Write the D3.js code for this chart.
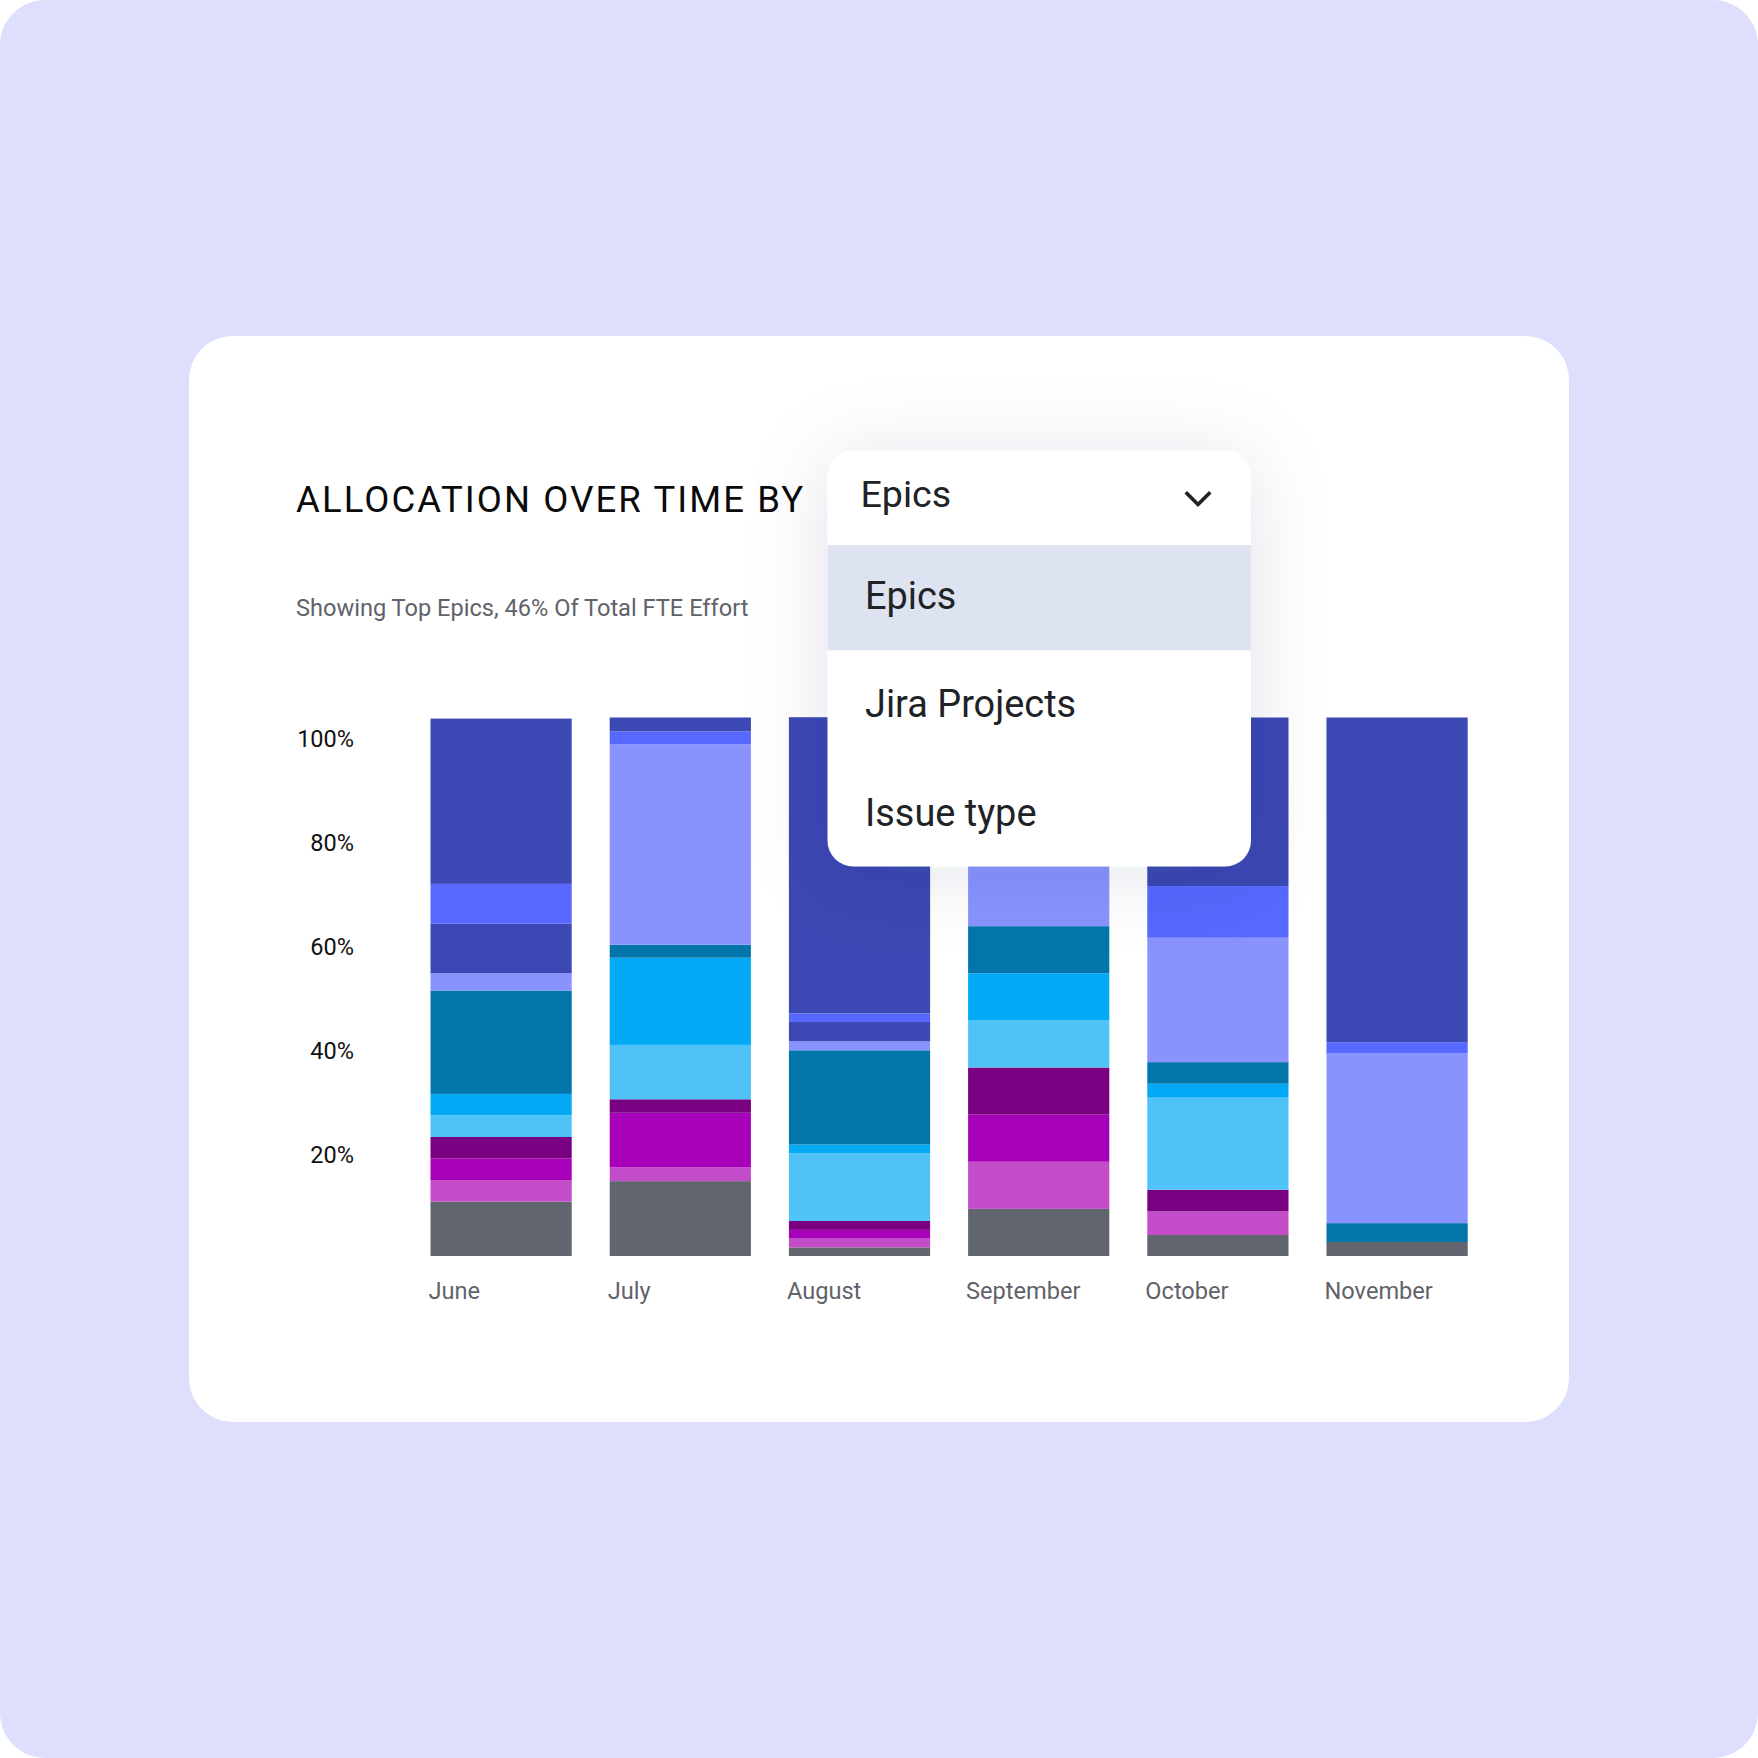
<!DOCTYPE html>
<html>
<head>
<meta charset="utf-8">
<script src="https://cdn.jsdelivr.net/npm/d3@7"></script>
<style>
  html, body { margin: 0; padding: 0; background: #ffffff; }
  svg { display: block; }
  text { font-family: Roboto, "Noto Sans", sans-serif; }
</style>
</head>
<body>
<svg id="chart" width="1758" height="1758"></svg>
<script>
// ---- data ----
const months = ["June", "July", "August", "September", "October", "November"];
const seriesKeys = ["Other", "Epic 1", "Epic 2", "Epic 3", "Epic 4", "Epic 5", "Epic 6", "Epic 7", "Epic 8", "Epic 9", "Epic 10"];
const seriesColors = ["#61656d", "#c34dc9", "#a600b9", "#790080", "#4fc3f7", "#03a9f4", "#0276ab", "#8893fd", "#3c48b3", "#5668ff", "#3c48b3"];
const otherVals  = [10.1, 13.9, 1.6, 8.75, 3.9, 2.6];
const epic1Vals  = [4.0, 2.6, 1.65, 8.75, 4.4, 0];
const epic2Vals  = [4.0, 10.1, 1.6, 8.75, 0, 0];
const epic3Vals  = [4.0, 2.5, 1.65, 8.75, 4.0, 0];
const epic4Vals  = [4.0, 10.1, 12.6, 8.75, 17.1, 0];
const epic5Vals  = [4.0, 16.2, 1.6, 8.75, 2.6, 0];
const epic6Vals  = [19.2, 2.4, 17.5, 8.75, 4.0, 3.5];
const epic7Vals  = [3.2, 37.2, 1.65, 12.5, 23.1, 31.5];
const epic8Vals  = [9.2, 0, 3.6, 0, 0, 0];
const epic9Vals  = [7.4, 2.4, 1.6, 8.75, 9.6, 2.1];
const epic10Vals = [30.7, 2.6, 55.0, 17.5, 31.3, 60.3];
const yTicks = [20, 40, 60, 80, 100];
const titleText = "ALLOCATION OVER TIME BY";
const subtitleText = "Showing Top Epics, 46% Of Total FTE Effort";
const dropdownSelected = "Epics";
const dropdownOptions = ["Epics", "Jira Projects", "Issue type"];

const allVals = [otherVals, epic1Vals, epic2Vals, epic3Vals, epic4Vals, epic5Vals, epic6Vals, epic7Vals, epic8Vals, epic9Vals, epic10Vals];
const table = months.map((m, i) => {
  const row = { month: m };
  seriesKeys.forEach((k, j) => { row[k] = allVals[j][i]; });
  return row;
});

// ---- drawing ----
const svg = d3.select("#chart");
const defs = svg.append("defs");
const f = defs.append("filter").attr("id", "ddShadow")
  .attr("x", "-60%").attr("y", "-60%").attr("width", "220%").attr("height", "220%");
f.append("feDropShadow").attr("dx", 0).attr("dy", 6).attr("stdDeviation", 40)
  .attr("flood-color", "#1c2550").attr("flood-opacity", 0.11);

// background + card
svg.append("rect").attr("x", 0).attr("y", 0).attr("width", 1758).attr("height", 1758)
  .attr("rx", 45).attr("fill", "#dedffd");
svg.append("rect").attr("x", 189).attr("y", 336).attr("width", 1380).attr("height", 1086)
  .attr("rx", 44).attr("fill", "#ffffff");

// title + subtitle
svg.append("text").attr("x", 296).attr("y", 512)
  .attr("font-size", 36.5).attr("letter-spacing", 2.1).attr("fill", "#0a0a0a")
  .text(titleText);
svg.append("text").attr("x", 296).attr("y", 616)
  .attr("font-size", 23.6).attr("fill", "#5f6369")
  .text(subtitleText);

// scales
const x = d3.scaleBand().domain(months).range([430.5, 1467.7]).paddingInner(0.212).paddingOuter(0);
const y = d3.scaleLinear().domain([0, 100]).range([1256, 717.5]);
const yLabel = d3.scaleLinear().domain([0, 100]).range([1259, 739]);
const color = d3.scaleOrdinal().domain(seriesKeys).range(seriesColors);

const stacked = d3.stack().keys(seriesKeys)(table);

const gBars = svg.append("g");
gBars.selectAll("g.layer").data(stacked).join("g").attr("class", "layer")
  .attr("fill", d => color(d.key))
  .selectAll("rect").data(d => d).join("rect")
  .attr("x", d => x(d.data.month))
  .attr("width", x.bandwidth())
  .attr("y", d => y(d[1]))
  .attr("height", d => Math.max(0, y(d[0]) - y(d[1])));

// y axis (labels only)
const yAxis = d3.axisLeft(yLabel).tickValues(yTicks).tickSize(0).tickPadding(0)
  .tickFormat(d => d + "%");
const gy = svg.append("g").attr("transform", "translate(354,0)").call(yAxis);
gy.select(".domain").remove();
gy.selectAll("text").attr("font-family", "Roboto, sans-serif").attr("font-size", 23.5).attr("fill", "#111111");

// x axis (labels only, left aligned under bars)
const xAxis = d3.axisBottom(x).tickSize(0).tickPadding(0);
const gx = svg.append("g").attr("transform", "translate(0,1281)").call(xAxis);
gx.select(".domain").remove();
gx.selectAll(".tick").attr("transform", d => `translate(${x(d) - 2},0)`);
gx.selectAll("text").attr("font-family", "Roboto, sans-serif").attr("font-size", 23.6)
  .attr("fill", "#5f6369").attr("text-anchor", "start").attr("dy", "0.76em");

// dropdown
const dd = svg.append("g");
dd.append("rect").attr("x", 827.5).attr("y", 450.5).attr("width", 423.5).attr("height", 416)
  .attr("rx", 26).attr("fill", "#ffffff").attr("filter", "url(#ddShadow)");
dd.append("rect").attr("x", 827.5).attr("y", 545).attr("width", 423.5).attr("height", 105.3)
  .attr("fill", "#dde3f0");
dd.append("text").attr("x", 860.5).attr("y", 506.7).attr("font-size", 37.6).attr("fill", "#212226")
  .text(dropdownSelected);
dd.append("polyline").attr("points", "1187,493.5 1198,504.5 1209,493.5")
  .attr("fill", "none").attr("stroke", "#212226").attr("stroke-width", 3.6)
  .attr("stroke-linecap", "square").attr("stroke-linejoin", "miter");
const optY = [609, 716.7, 825.7];
dd.selectAll("text.opt").data(dropdownOptions).join("text").attr("class", "opt")
  .attr("x", 865).attr("y", (d, i) => optY[i]).attr("font-size", 37.9).attr("fill", "#212226")
  .text(d => d);
</script>
</body>
</html>
